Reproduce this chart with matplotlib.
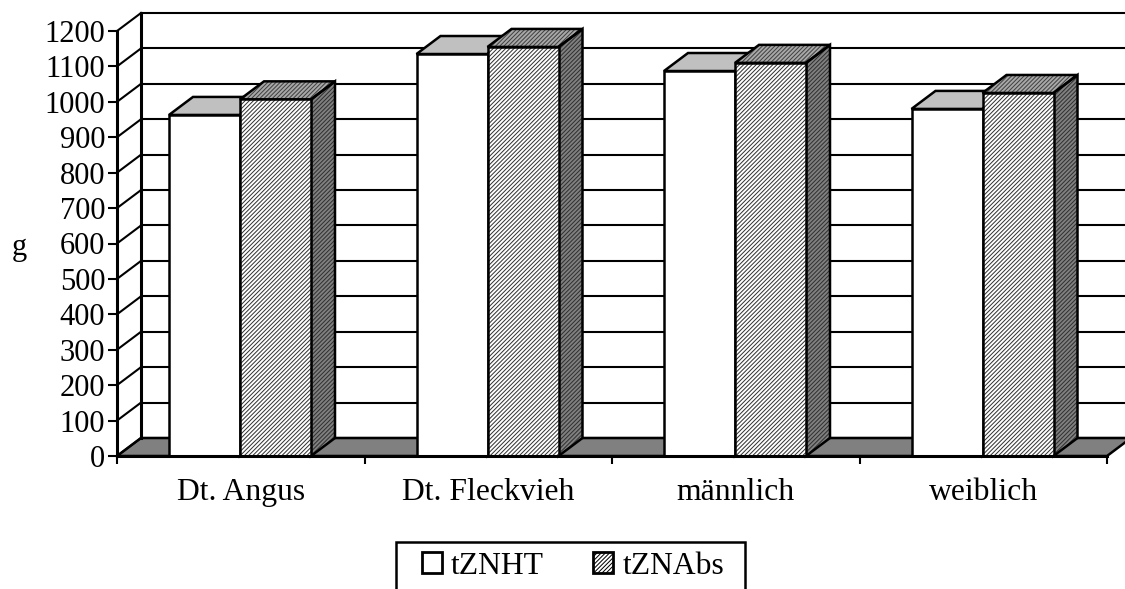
import matplotlib
matplotlib.use("Agg")
import matplotlib.pyplot as plt
from matplotlib.patches import Polygon, Patch, Rectangle

categories = ["Dt. Angus", "Dt. Fleckvieh", "männlich", "weiblich"]
tznht = [963, 1135, 1087, 980]
tznabs = [1007, 1155, 1110, 1025]
yticks = list(range(0, 1300, 100))

# depth of the fake 3d effect, in data units
DX = 24 / 247.5
DY = 18 / 35.4 * 100
BAR_W = 71 / 247.5
BAR_OFF = 52 / 247.5
LW = 1.8
GRID_LW = 1.5
FS = 22
HATCH = "////////"

plt.rcParams["font.family"] = ["Liberation Serif", "DejaVu Serif"]
plt.rcParams["hatch.linewidth"] = 0.72

W, H = 1125, 589
fig = plt.figure(figsize=(W / 100, H / 100), dpi=100)
left, right, bottom, top = 117, 1107, 456, 31
ax = fig.add_axes([left / W, 1 - bottom / H, (right - left) / W, (bottom - top) / H])
ax.set_xlim(0, 4)
ax.set_ylim(0, 1200)
ax.patch.set_visible(False)


def face(points, fc, hatch_color=None, hatch=None, z=3):
    if hatch:
        ax.add_patch(Polygon(points, closed=True, facecolor=fc, edgecolor=hatch_color, hatch=hatch,
                             linewidth=0, zorder=z, clip_on=False))
    else:
        ax.add_patch(Polygon(points, closed=True, facecolor=fc, edgecolor="none", zorder=z, clip_on=False))
    ax.add_patch(Polygon(points, closed=True, facecolor="none", edgecolor="black", linewidth=LW,
                         joinstyle="miter", zorder=z + 0.1, clip_on=False))


def draw_bar(x, value, front, top_c, side, hatch=None, z=3):
    x2 = x + BAR_W
    face([(x2, 0), (x2 + DX, DY), (x2 + DX, value + DY), (x2, value)], side[0], side[1], hatch, z)
    face([(x, value), (x + DX, value + DY), (x2 + DX, value + DY), (x2, value)], top_c[0], top_c[1], hatch, z)
    face([(x, 0), (x2, 0), (x2, value), (x, value)], front[0], front[1], hatch, z + 0.2)


# floor
face([(0, 0), (DX, DY), (4 + DX, DY), (4, 0)], "#808080", z=1)

# back wall lines and the diagonals on the left wall
for y in yticks:
    ax.plot([0, DX], [y, y + DY], color="black", lw=GRID_LW, clip_on=False, zorder=2)
    ax.plot([DX, 4 + DX], [y + DY, y + DY], color="black", lw=GRID_LW, clip_on=False, zorder=2)
ax.plot([DX, DX], [DY, 1200 + DY], color="black", lw=2.2, clip_on=False, zorder=2)

for i, (a, b) in enumerate(zip(tznht, tznabs)):
    x = i + BAR_OFF
    draw_bar(x, a, ("white", None), ("#c0c0c0", None), ("white", None), z=3)
    draw_bar(x + BAR_W, b, ("white", "#333333"), ("#a8a8a8", "#404040"), ("#808080", "#303030"),
             hatch=HATCH, z=4)

ax.set_xticks(range(5))
ax.set_xticklabels([])
ax.set_xticks([i + 0.5 for i in range(4)], categories, minor=True)
ax.tick_params(axis="x", which="minor", length=0, labelsize=22.8, pad=15.5)
ax.tick_params(axis="x", which="major", length=5.8, width=GRID_LW)
ax.set_yticks(yticks)
ax.tick_params(axis="y", length=6.5, width=GRID_LW, labelsize=FS, pad=2)
for side_name in ["top", "right"]:
    ax.spines[side_name].set_visible(False)
for side_name in ["left", "bottom"]:
    ax.spines[side_name].set_linewidth(2.2)
    ax.spines[side_name].set_zorder(6)

fig.text(19 / W, 1 - 248 / H, "g", fontsize=FS, ha="center", va="center")

# legend frame runs off the bottom of the picture
fig.add_artist(Rectangle((396 / W, 1 - 600 / H), 349 / W, 58 / H, transform=fig.transFigure,
                         facecolor="white", edgecolor="black", linewidth=1.8))
handles = [Patch(facecolor="white", edgecolor="black", linewidth=2, label="tZNHT"),
           Patch(facecolor="white", edgecolor="black", linewidth=2, hatch=HATCH, label="tZNAbs")]
leg = fig.legend(handles=handles, ncol=2, loc="center", bbox_to_anchor=(573 / W, 1 - 566 / H), fontsize=22.8,
                 frameon=False, handlelength=0.63, handleheight=0.63,
                 handletextpad=0.3, columnspacing=1.55, borderpad=0)

fig.savefig("out.png", dpi=100)
